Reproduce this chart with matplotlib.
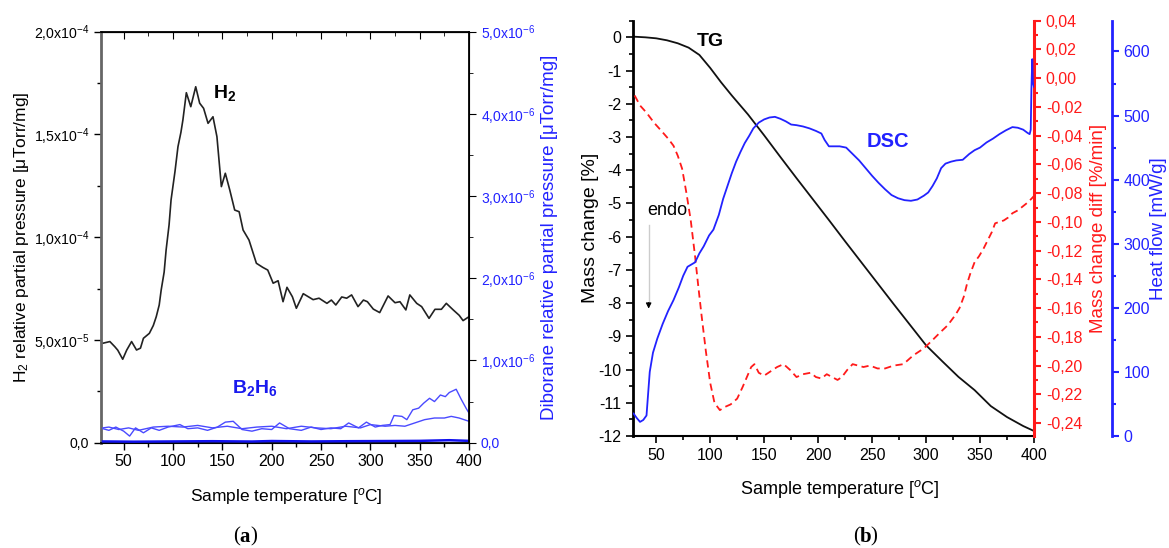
import matplotlib
matplotlib.use('Agg')
import matplotlib.pyplot as plt
import matplotlib.ticker as mtick
import numpy as np

plt.rcParams['font.family'] = ['Liberation Sans', 'DejaVu Sans']
plt.rcParams['mathtext.fontset'] = 'custom'
plt.rcParams['mathtext.rm'] = 'Liberation Sans'
plt.rcParams['mathtext.it'] = 'Liberation Sans:italic'
plt.rcParams['mathtext.bf'] = 'Liberation Sans:bold'
plt.rcParams['axes.unicode_minus'] = False

BLUE = '#2222ff'
LBLUE = '#4a4aff'
RED = '#ff1a1a'

# ---- panel (a): mass spectrometry ----
h2_temp = [29, 36, 41, 44, 49, 53, 58, 63, 67, 70, 76, 80, 83, 86, 88, 91, 93, 96, 98, 102,
           105, 108, 110, 113.5, 118, 123, 127, 131, 135.5, 140.5, 144.5, 149, 153, 157.5,
           162.5, 167, 171, 177, 184.5, 191, 196, 201.5, 206.5, 211.5, 215.5, 221, 225, 232,
           242, 248, 256, 260.5, 265, 271, 276, 281, 287.5, 293, 297, 303, 309.5, 318, 325,
           330, 336, 340, 347, 352, 359.5, 365.5, 372, 377, 384, 390, 394, 400]
h2_press = [4.84, 4.92, 4.67, 4.5, 4.06, 4.5, 4.92, 4.51, 4.6, 5.08, 5.32, 5.7, 6.13, 6.7, 7.43,
            8.3, 9.38, 10.6, 11.81, 13.2, 14.4, 15.1, 15.7, 17.03, 16.35, 17.32, 16.52, 16.27,
            15.54, 15.86, 14.89, 12.46, 13.11, 12.3, 11.32, 11.24, 10.35, 9.86, 8.73, 8.53, 8.4,
            7.76, 7.88, 6.86, 7.56, 7.1, 6.54, 7.25, 6.96, 7.03, 6.78, 6.94, 6.7, 7.09, 7.03,
            7.19, 6.62, 6.94, 6.86, 6.5, 6.33, 7.14, 6.81, 6.86, 6.46, 7.19, 6.78, 6.62, 6.05,
            6.49, 6.49, 6.78, 6.46, 6.2, 5.94, 6.13]  # x1e-5

b2h6_temp_a = [29, 35, 42, 50, 56, 62, 70, 78, 86, 95, 107, 115, 125, 135, 145, 153, 161, 170,
               180, 190, 200, 208, 218, 230, 240, 250, 260, 270, 278, 288, 296, 305, 312, 320,
               324, 332, 337, 343, 349, 354, 360, 365, 371, 376, 380, 387, 392, 397, 400]
b2h6_press_a = [1.7, 1.5, 1.9, 1.4, 0.8, 1.8, 1.2, 1.8, 1.5, 1.9, 2.2, 1.7, 1.8, 1.5, 1.9, 2.5,
                2.6, 1.6, 1.4, 1.7, 1.6, 2.4, 1.7, 1.5, 1.9, 1.6, 1.8, 1.7, 2.4, 1.8, 2.5, 1.9,
                2.1, 2.2, 3.3, 3.2, 2.8, 4.0, 4.2, 4.8, 5.4, 5.0, 5.8, 5.6, 6.1, 6.5, 5.3, 4.2, 3.6]
b2h6_temp_b = [29, 35, 45, 55, 65, 80, 95, 110, 125, 140, 155, 170, 185, 200, 215, 230, 245,
               260, 275, 290, 300, 315, 325, 335, 345, 355, 365, 375, 382, 390, 400]
b2h6_press_b = [1.8, 1.9, 1.6, 1.8, 1.5, 1.9, 2.0, 1.9, 2.1, 1.8, 2.0, 1.7, 1.9, 2.0, 1.7, 2.0,
                1.8, 1.7, 2.0, 1.8, 2.2, 2.0, 2.1, 2.0, 2.4, 2.8, 3.0, 3.0, 3.2, 3.0, 2.6]
b2h6_temp_c = [29, 60, 100, 140, 180, 200, 240, 280, 320, 350, 380, 400]
b2h6_press_c = [0.15, 0.12, 0.15, 0.18, 0.14, 0.2, 0.15, 0.18, 0.2, 0.22, 0.3, 0.22]  # x1e-7

# ---- panel (b): thermal analysis ----
tg_temp = [29, 40, 50, 60, 70, 80, 90, 100, 110, 120, 135, 150, 165, 180, 195, 210, 225, 240,
           255, 270, 285, 300, 315, 330, 345, 360, 375, 390, 400]
tg_mass = [0.02, 0.0, -0.03, -0.09, -0.18, -0.31, -0.53, -0.92, -1.35, -1.75, -2.32, -2.95,
           -3.6, -4.24, -4.87, -5.5, -6.14, -6.77, -7.4, -8.03, -8.65, -9.27, -9.75, -10.22,
           -10.62, -11.1, -11.43, -11.7, -11.85]

dtg_temp = [30, 35, 41, 48, 54, 61, 66, 70, 74, 78, 82, 86, 89, 92, 96, 100, 104, 109, 113, 119,
            125, 130, 134, 138, 141, 145, 150, 156, 162, 168, 174, 180, 186, 193, 198, 203, 208,
            213, 218, 222, 227, 232, 237, 242, 248, 255, 262, 270, 279, 288, 298, 305, 313, 320,
            327, 331, 335, 338, 341, 345, 349, 353, 357, 361, 364, 368, 372, 376, 380, 385, 390,
            395, 400]
dtg_rate = [-0.012, -0.019, -0.024, -0.031, -0.036, -0.042, -0.047, -0.054, -0.063, -0.080,
            -0.099, -0.124, -0.145, -0.165, -0.190, -0.212, -0.226, -0.231, -0.229, -0.227,
            -0.223, -0.215, -0.208, -0.201, -0.199, -0.205, -0.207, -0.204, -0.201, -0.199,
            -0.203, -0.208, -0.206, -0.205, -0.208, -0.209, -0.206, -0.208, -0.210, -0.208,
            -0.203, -0.199, -0.200, -0.201, -0.200, -0.202, -0.202, -0.200, -0.199, -0.193,
            -0.188, -0.183, -0.177, -0.172, -0.165, -0.160, -0.152, -0.143, -0.136, -0.128,
            -0.124, -0.119, -0.113, -0.107, -0.101, -0.100, -0.099, -0.097, -0.094, -0.092,
            -0.089, -0.086, -0.082]

dsc_temp = [29, 32, 35, 38, 41, 44, 47, 51, 56, 61, 66, 71, 75, 79, 83, 86, 90, 94, 99, 103, 108,
            112, 116, 120, 124, 128, 132, 136, 140, 145, 150, 155, 160, 165, 170, 175, 180, 186,
            192, 198, 203, 206, 210, 215, 220, 226, 232, 238, 244, 250, 256, 262, 268, 274, 280,
            286, 292, 298, 302, 306, 310, 314, 318, 323, 328, 334, 340, 345, 350, 356, 362, 368,
            374, 380, 385, 390, 394, 396, 397, 397.6, 398.4, 399, 400]
dsc_flow = [35, 28, 22, 25, 32, 100, 130, 152, 175, 195, 212, 232, 250, 264, 268, 271, 285, 296,
            313, 322, 345, 370, 390, 410, 428, 443, 457, 468, 480, 489, 494, 497, 498, 495, 491,
            486, 485, 483, 480, 476, 472, 462, 452, 452, 452, 450, 440, 430, 418, 406, 395, 385,
            376, 371, 368, 367, 369, 375, 380, 390, 402, 418, 425, 428, 430, 431, 440, 446, 450,
            458, 464, 471, 477, 482, 481, 478, 473, 471, 478, 540, 588, 552, 545]


def sci_comma(v, pos):
    if abs(v) < 1e-12:
        return '0,0'
    e = int(np.floor(np.log10(abs(v)) + 1e-9))
    m = v / 10.0 ** e
    return ('%.1f' % m).replace('.', ',') + r'x10$^{%d}$' % e


def comma2(v, pos):
    s = '%.2f' % v
    if s == '-0.00':
        s = '0.00'
    return s.replace('.', ',')


fig = plt.figure(figsize=(11.69, 5.48), dpi=100)

# ============ (a) ============
ax1 = fig.add_axes([0.0864, 0.1922, 0.3148, 0.750])
ax1.plot(h2_temp, np.array(h2_press) * 1e-5, color='#222222', lw=1.2)
ax1.set_xlim(27, 400)
ax1.set_ylim(0, 2e-4)
ax1.xaxis.set_major_locator(mtick.MultipleLocator(50))
ax1.xaxis.set_minor_locator(mtick.MultipleLocator(25))
ax1.yaxis.set_major_locator(mtick.MultipleLocator(5e-5))
ax1.yaxis.set_minor_locator(mtick.MultipleLocator(2.5e-5))
ax1.yaxis.set_major_formatter(mtick.FuncFormatter(sci_comma))
ax1.tick_params(axis='y', which='major', direction='out', length=5, labelsize=10.2, width=1)
ax1.tick_params(axis='y', which='minor', direction='out', length=3, width=1)
ax1.tick_params(axis='x', which='major', direction='out', length=5, labelsize=11.5, width=1)
ax1.tick_params(axis='x', which='minor', direction='out', length=3, width=1)
ax1.spines['left'].set_color('#666666')
ax1.spines['left'].set_linewidth(2)
ax1.spines['top'].set_linewidth(1.3)
ax1.spines['bottom'].set_linewidth(1.3)
ax1.set_xlabel('Sample temperature [$^{o}$C]', fontsize=12.5)
ax1.xaxis.set_label_coords(0.503, -0.105)
ax1.set_ylabel('H$_2$ relative partial pressure [μTorr/mg]', fontsize=12.5)
ax1.yaxis.set_label_coords(-0.19, 0.5)

top1 = ax1.secondary_xaxis('top')
top1.xaxis.set_major_locator(mtick.MultipleLocator(50))
top1.xaxis.set_minor_locator(mtick.MultipleLocator(25))
top1.tick_params(axis='x', which='major', direction='in', length=5, labeltop=False)
top1.tick_params(axis='x', which='minor', direction='in', length=3)

ax1b = ax1.twinx()
ax1b.plot(b2h6_temp_a, np.array(b2h6_press_a) * 1e-7, color=LBLUE, lw=1.0)
ax1b.plot(b2h6_temp_b, np.array(b2h6_press_b) * 1e-7, color=LBLUE, lw=1.0)
ax1b.plot(b2h6_temp_c, np.array(b2h6_press_c) * 1e-7, color='#1010ee', lw=1.8)
ax1b.set_ylim(0, 5e-6)
ax1b.yaxis.set_major_locator(mtick.MultipleLocator(1e-6))
ax1b.yaxis.set_minor_locator(mtick.MultipleLocator(5e-7))
ax1b.yaxis.set_major_formatter(mtick.FuncFormatter(sci_comma))
ax1b.tick_params(axis='y', which='major', direction='out', length=5, labelsize=10,
                 labelcolor=BLUE)
ax1b.tick_params(axis='y', which='minor', direction='out', length=3)
ax1b.spines['right'].set_linewidth(1.3)
ax1b.spines['left'].set_visible(False)
ax1b.set_ylabel('Diborane relative partial pressure [μTorr/mg]', fontsize=13.5, color=BLUE)
ax1b.yaxis.set_label_coords(1.196, 0.5)

ax1.text(152, 1.7e-4, r'$\mathbf{H}_\mathbf{2}$', fontsize=14, ha='center', va='center')
ax1b.text(183, 0.66e-6, r'$\mathbf{B}_\mathbf{2}\mathbf{H}_\mathbf{6}$', fontsize=14,
          color='#1a1aee', ha='center', va='center')

# ============ (b) ============
ax2 = fig.add_axes([0.5415, 0.2044, 0.343, 0.7578])
ax2.plot(tg_temp, tg_mass, color='#111111', lw=1.3)
ax2.set_xlim(28.5, 400)
ax2.set_ylim(-12, 0.5)
ax2.xaxis.set_major_locator(mtick.MultipleLocator(50))
ax2.xaxis.set_minor_locator(mtick.MultipleLocator(25))
ax2.yaxis.set_major_locator(mtick.MultipleLocator(1))
ax2.yaxis.set_minor_locator(mtick.MultipleLocator(0.5))
ax2.tick_params(axis='both', which='major', direction='out', length=5, labelsize=11.5, width=1.2)
ax2.tick_params(axis='both', which='minor', direction='out', length=3, width=1.2)
ax2.spines['top'].set_visible(False)
ax2.spines['right'].set_visible(False)
ax2.spines['left'].set_linewidth(2)
ax2.spines['bottom'].set_linewidth(1.5)
ax2.set_xlabel('Sample temperature [$^{o}$C]', fontsize=13)
ax2.xaxis.set_label_coords(0.516, -0.102)
ax2.set_ylabel('Mass change [%]', fontsize=14)
ax2.yaxis.set_label_coords(-0.085, 0.5)

ax2r = ax2.twinx()
ax2r.plot(dtg_temp, dtg_rate, color=RED, lw=1.3, dashes=(4, 2.5))
ax2r.set_ylim(-0.249, 0.04)
ax2r.yaxis.set_major_locator(mtick.MultipleLocator(0.02))
ax2r.yaxis.set_minor_locator(mtick.MultipleLocator(0.01))
ax2r.yaxis.set_major_formatter(mtick.FuncFormatter(comma2))
ax2r.tick_params(axis='y', which='major', direction='out', length=5, labelsize=11.5,
                 color=RED, labelcolor=RED, width=1.5)
ax2r.tick_params(axis='y', which='minor', direction='out', length=3, color=RED, width=1.5)
for s in ['top', 'left', 'bottom']:
    ax2r.spines[s].set_visible(False)
ax2r.spines['right'].set_color(RED)
ax2r.spines['right'].set_linewidth(2.2)
ax2r.set_ylabel('Mass change diff [%/min]', fontsize=13.5, color=RED)
ax2r.yaxis.set_label_coords(1.14, 0.5)

ax2h = ax2.twinx()
ax2h.plot(dsc_temp, dsc_flow, color=BLUE, lw=1.3)
ax2h.set_ylim(0, 648)
ax2h.spines['right'].set_position(('axes', 1.194))
ax2h.yaxis.set_major_locator(mtick.MultipleLocator(100))
ax2h.yaxis.set_minor_locator(mtick.MultipleLocator(50))
ax2h.tick_params(axis='y', which='major', direction='out', length=5, labelsize=11.5,
                 color=BLUE, labelcolor=BLUE, width=1.5)
ax2h.tick_params(axis='y', which='minor', direction='out', length=3, color=BLUE, width=1.5)
for s in ['top', 'left', 'bottom']:
    ax2h.spines[s].set_visible(False)
ax2h.spines['right'].set_color(BLUE)
ax2h.spines['right'].set_linewidth(2)
ax2h.set_ylabel('Heat flow [mW/g]', fontsize=13.5, color=BLUE)
ax2h.yaxis.set_label_coords(1.29, 0.5)

ax2.text(100, -0.13, 'TG', fontsize=14, fontweight='bold', ha='center', va='center')
ax2.text(42, -5.22, 'endo', fontsize=13, ha='left', va='center')
ax2.plot([43, 43], [-5.65, -8.0], color='#cccccc', lw=1)
ax2.annotate('', xy=(43, -8.25), xytext=(43, -7.9),
             arrowprops=dict(arrowstyle='-|>', color='black', lw=0.8,
                             mutation_scale=8))
ax2h.text(265, 459, 'DSC', fontsize=14.5, fontweight='bold', color=BLUE, ha='center',
          va='center')

# panel letters
for xc, letter in [(0.2096, 'a'), (0.740, 'b')]:
    fig.text(xc, 0.02, letter, fontsize=15, fontweight='bold', family='Liberation Serif',
             ha='center', va='center')
    fig.text(xc - 0.0045, 0.02, '(', fontsize=15, family='Liberation Serif', ha='right',
             va='center')
    fig.text(xc + 0.0045, 0.02, ')', fontsize=15, family='Liberation Serif', ha='left',
             va='center')

fig.savefig('out.png', dpi=100)
